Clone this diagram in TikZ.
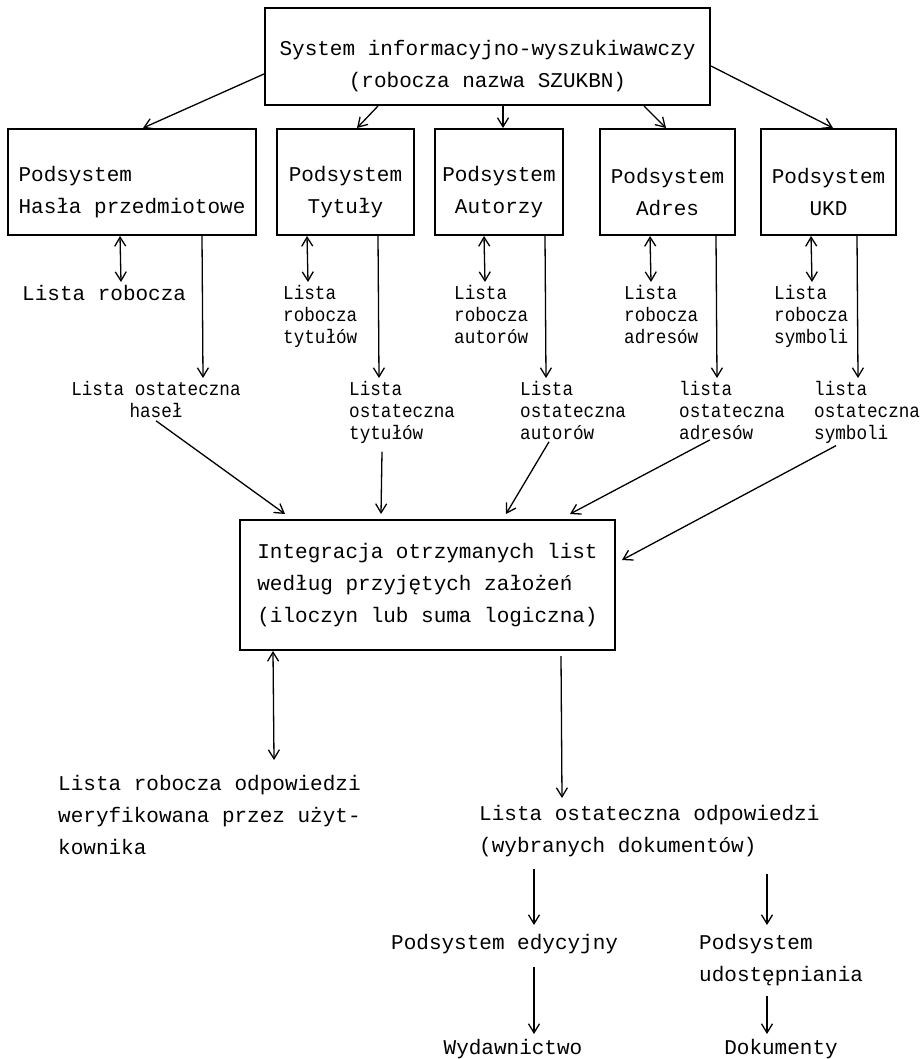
\documentclass[tikz,border=0pt]{standalone}
\usepackage{fontspec}
\setmainfont{Liberation Mono}
\newfontfamily\waski[FakeStretch=0.9]{Liberation Mono}
\usetikzlibrary{arrows.meta}
\newcommand\luzno{\fontsize{21}{32}\selectfont}
\newcommand\ciasno{\waski\fontsize{19.6}{22}\selectfont}
\newcommand\podpora{\rule{0pt}{35pt}}

\begin{document}
\begin{tikzpicture}[x=1pt,y=-1pt,
	>={Straight Barb[length=9pt,width=11pt]},
	ramka/.style={draw,line width=2pt,inner sep=0pt,font=\luzno},
	lista/.style={inner sep=0pt,align=left,font=\ciasno},
	opis/.style={inner sep=0pt,align=left,font=\luzno},
	strz/.style={->,line width=1.3pt}]
\useasboundingbox (0,0) rectangle (922,1059);
\node [ramka, align=center, minimum width=445pt, minimum height=97pt] (sys) at (487.5,56.5) {\podpora System informacyjno-wyszukiwawczy\\(robocza nazwa SZUKBN)};
\node [ramka, align=left, minimum width=248pt, minimum height=106pt] (hasla) at (132,182) {\podpora Podsystem\\Hasła przedmiotowe};
\node [ramka, align=center, minimum width=137pt, minimum height=106pt] (tytuly) at (345.5,182) {\podpora Podsystem\\Tytuły};
\node [ramka, align=center, minimum width=128pt, minimum height=106pt] (autorzy) at (499,182) {\podpora Podsystem\\Autorzy};
\node [ramka, align=center, minimum width=135pt, minimum height=106pt] (adres) at (667.5,182) {\podpora Podsystem\\Adres};
\node [ramka, align=center, minimum width=135pt, minimum height=106pt] (ukd) at (828.5,182) {\podpora Podsystem\\UKD};
\draw [strz] ([yshift=-17.5pt]sys.west) -- ([xshift=136pt]hasla.north west);
\draw [strz] ([xshift=114pt]sys.south west) -- ([xshift=81pt]tytuly.north west);
\draw [strz] ([xshift=239pt]sys.south west) -- ([xshift=69pt]autorzy.north west);
\draw [strz] ([xshift=380pt]sys.south west) -- ([xshift=67pt]adres.north west);
\draw [strz] ([yshift=-9.5pt]sys.east) -- ([xshift=73pt]ukd.north west);
\node [opis, anchor=north west] (rob1) at (22,285) {Lista robocza};
\node [lista, anchor=north west] (rob2) at (283,285) {Lista\\robocza\\tytułów};
\node [lista, anchor=north west] (rob3) at (454,285) {Lista\\robocza\\autorów};
\node [lista, anchor=north west] (rob4) at (624,285) {Lista\\robocza\\adresów};
\node [lista, anchor=north west] (rob5) at (774,285) {Lista\\robocza\\symboli};
\draw [strz, <->] ([xshift=113pt]hasla.south west) -- ([xshift=99pt,yshift=3pt]rob1.north west);
\draw [strz, <->] ([xshift=31pt]tytuly.south west) -- ([xshift=25pt,yshift=3pt]rob2.north west);
\draw [strz, <->] ([xshift=50pt]autorzy.south west) -- ([xshift=31pt,yshift=3pt]rob3.north west);
\draw [strz, <->] ([xshift=51pt]adres.south west) -- ([xshift=27pt,yshift=3pt]rob4.north west);
\draw [strz, <->] ([xshift=51pt]ukd.south west) -- ([xshift=38pt,yshift=3pt]rob5.north west);
\node [lista, anchor=north, align=center] (ost1) at (156,381) {Lista ostateczna\\haseł};
\node [lista, anchor=north west] (ost2) at (349,381) {Lista\\ostateczna\\tytułów};
\node [lista, anchor=north west] (ost3) at (520,381) {Lista\\ostateczna\\autorów};
\node [lista, anchor=north west] (ost4) at (679,381) {lista\\ostateczna\\adresów};
\node [lista, anchor=north west] (ost5) at (814,381) {lista\\ostateczna\\symboli};
\draw [strz] ([xshift=195pt]hasla.south west) -- ([xshift=47pt,yshift=3pt]ost1.north);
\draw [strz] ([xshift=102pt]tytuly.south west) -- ([xshift=30pt,yshift=3pt]ost2.north west);
\draw [strz] ([xshift=111pt]autorzy.south west) -- ([xshift=26pt,yshift=3pt]ost3.north west);
\draw [strz] ([xshift=117pt]adres.south west) -- ([xshift=38pt,yshift=3pt]ost4.north west);
\draw [strz] ([xshift=97pt]ukd.south west) -- ([xshift=44pt,yshift=3pt]ost5.north west);
\node [ramka, align=left, minimum width=375pt, minimum height=130pt] (integ) at (427.5,585) {Integracja otrzymanych list\\według przyjętych założeń\\(iloczyn lub suma logiczna)};
\draw [strz] ([yshift=-3pt]ost1.south) -- ([xshift=46pt,yshift=5pt]integ.north west);
\draw [strz] ([xshift=33pt,yshift=-8pt]ost2.south west) -- ([xshift=142pt,yshift=5pt]integ.north west);
\draw [strz] ([xshift=29pt,yshift=-2pt]ost3.south west) -- ([xshift=267pt,yshift=5pt]integ.north west);
\draw [strz] ([xshift=31pt]ost4.south west) -- ([xshift=331pt,yshift=5pt]integ.north west);
\draw [strz] ([xshift=22pt,yshift=-2pt]ost5.south west) -- ([xshift=6pt,yshift=25pt]integ.east);
\node [opis, anchor=north west] (odp1) at (58,775) {Lista robocza odpowiedzi\\weryfikowana przez użyt-\\kownika};
\node [opis, anchor=north west] (odp2) at (479,805) {Lista ostateczna odpowiedzi\\(wybranych dokumentów)};
\draw [strz, <->] ([xshift=34pt]integ.south west) -- ([xshift=216pt,yshift=15pt]odp1.north west);
\draw [strz] ([xshift=322pt,yshift=-5pt]integ.south west) -- ([xshift=83pt,yshift=7pt]odp2.north west);
\node [opis, anchor=north west] (edyc) at (391,934) {Podsystem edycyjny};
\node [opis, anchor=north west] (udost) at (699,934) {Podsystem\\udostępniania};
\draw [strz] ([xshift=55pt,yshift=-12pt]odp2.south west) -- ([xshift=143pt,yshift=9pt]edyc.north west);
\draw [strz] ([xshift=288pt,yshift=-17pt]odp2.south west) -- ([xshift=68pt,yshift=9pt]udost.north west);
\node [opis, anchor=north] (wyd) at (513,1039) {Wydawnictwo};
\node [opis, anchor=north] (dok) at (781,1039) {Dokumenty};
\draw [strz] ([xshift=143pt,yshift=-13pt]edyc.south west) -- ([xshift=21pt,yshift=5pt]wyd.north);
\draw [strz] ([xshift=68pt,yshift=-10pt]udost.south west) -- ([xshift=-14pt,yshift=5pt]dok.north);
\end{tikzpicture}
\end{document}
